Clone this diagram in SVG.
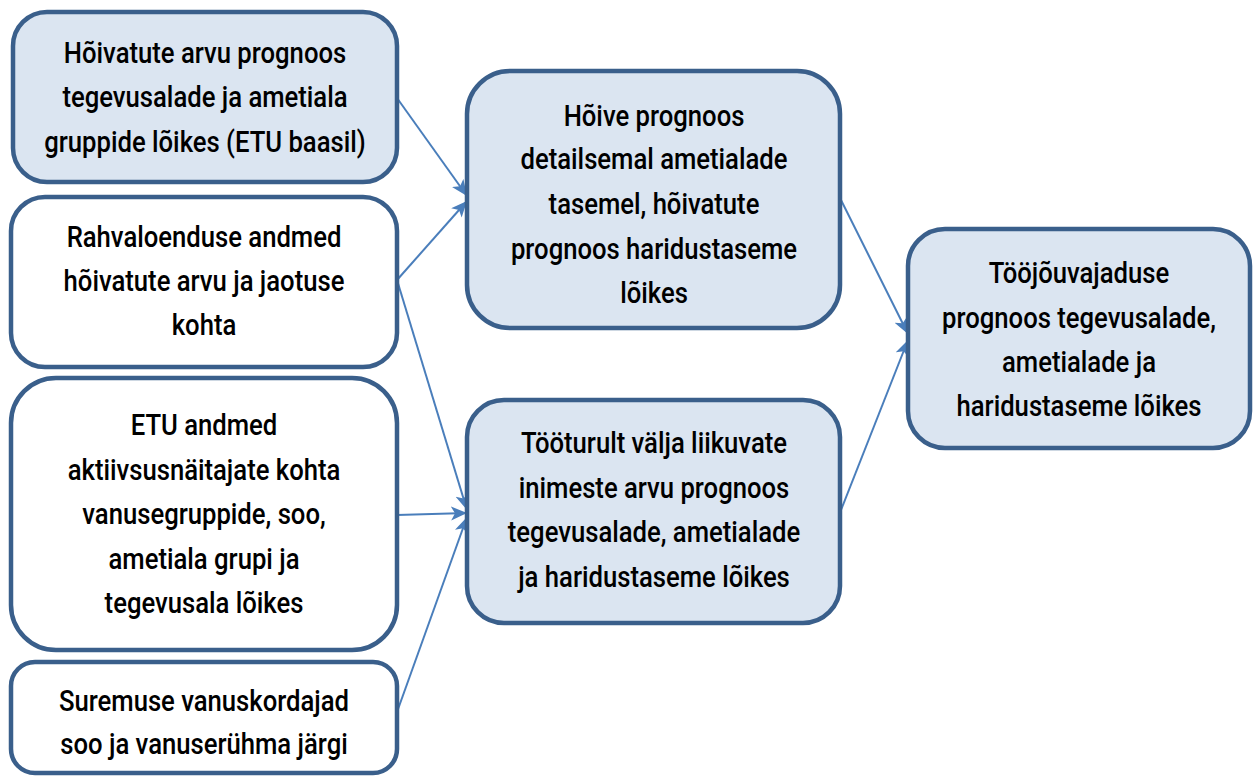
<svg xmlns="http://www.w3.org/2000/svg" width="1255" height="776" viewBox="0 0 1255 776">
<defs>
<style>
.box{stroke:#3A5F8B;stroke-width:4.5}
.blue{fill:#DBE5F1}
.white{fill:#FFFFFF}
.t{font-family:Roboto,"Liberation Sans",sans-serif;font-size:29.5px;font-weight:500;fill:#000;text-anchor:middle}
.c{stroke:#4A7EBB;stroke-width:2;fill:none;marker-end:url(#arr)}
</style>
<marker id="arr" markerUnits="userSpaceOnUse" markerWidth="18" markerHeight="16" refX="16" refY="7" orient="auto">
<path d="M0,0 L16,7 L0,14 L4,7 Z" fill="#4A7EBB"/>
</marker>
</defs>
<rect width="1255" height="776" fill="#FFFFFF"/>
<g id="connectors">
<line class="c" x1="397" y1="98" x2="467" y2="196"/>
<line class="c" x1="397" y1="280" x2="467" y2="201"/>
<line class="c" x1="397" y1="280" x2="467" y2="510"/>
<line class="c" x1="397" y1="515" x2="467" y2="513"/>
<line class="c" x1="397" y1="712" x2="467" y2="517"/>
<line class="c" x1="841" y1="200" x2="908" y2="334"/>
<line class="c" x1="841" y1="510" x2="908" y2="340"/>
</g>
<g id="n1">
<rect class="box blue" x="13" y="12" width="384" height="170" rx="34"/>
<text class="t" transform="translate(205,0) scale(0.87,1)"><tspan x="0" y="63">Hõivatute arvu prognoos</tspan><tspan x="0" y="107">tegevusalade ja ametiala</tspan><tspan x="0" y="152">gruppide lõikes (ETU baasil)</tspan></text>
</g>
<g id="n2">
<rect class="box white" x="11" y="197" width="386" height="170" rx="34"/>
<text class="t" transform="translate(204,0) scale(0.87,1)"><tspan x="0" y="247">Rahvaloenduse andmed</tspan><tspan x="0" y="291">hõivatute arvu ja jaotuse</tspan><tspan x="0" y="335">kohta</tspan></text>
</g>
<g id="n3">
<rect class="box white" x="11" y="378" width="386" height="272" rx="45"/>
<text class="t" transform="translate(204,0) scale(0.87,1)"><tspan x="0" y="435">ETU andmed</tspan><tspan x="0" y="480">aktiivsusnäitajate kohta</tspan><tspan x="0" y="524">vanusegruppide, soo,</tspan><tspan x="0" y="569">ametiala grupi ja</tspan><tspan x="0" y="613">tegevusala lõikes</tspan></text>
</g>
<g id="n4">
<rect class="box white" x="11" y="662" width="386" height="111" rx="24"/>
<text class="t" transform="translate(204,0) scale(0.87,1)"><tspan x="0" y="711">Suremuse vanuskordajad</tspan><tspan x="0" y="754">soo ja vanuserühma järgi</tspan></text>
</g>
<g id="n5">
<rect class="box blue" x="467" y="71" width="373" height="257" rx="43"/>
<text class="t" transform="translate(654,0) scale(0.87,1)"><tspan x="0" y="126">Hõive prognoos</tspan><tspan x="0" y="169">detailsemal ametialade</tspan><tspan x="0" y="214">tasemel, hõivatute</tspan><tspan x="0" y="259">prognoos haridustaseme</tspan><tspan x="0" y="303">lõikes</tspan></text>
</g>
<g id="n6">
<rect class="box blue" x="467" y="400" width="373" height="223" rx="37"/>
<text class="t" transform="translate(654,0) scale(0.87,1)"><tspan x="0" y="453">Tööturult välja liikuvate</tspan><tspan x="0" y="498">inimeste arvu prognoos</tspan><tspan x="0" y="542">tegevusalade, ametialade</tspan><tspan x="0" y="587">ja haridustaseme lõikes</tspan></text>
</g>
<g id="n7">
<rect class="box blue" x="908" y="229" width="342" height="219" rx="37"/>
<text class="t" transform="translate(1079,0) scale(0.87,1)"><tspan x="0" y="283">Tööjõuvajaduse</tspan><tspan x="0" y="328">prognoos tegevusalade,</tspan><tspan x="0" y="372">ametialade ja</tspan><tspan x="0" y="416">haridustaseme lõikes</tspan></text>
</g>
</svg>
